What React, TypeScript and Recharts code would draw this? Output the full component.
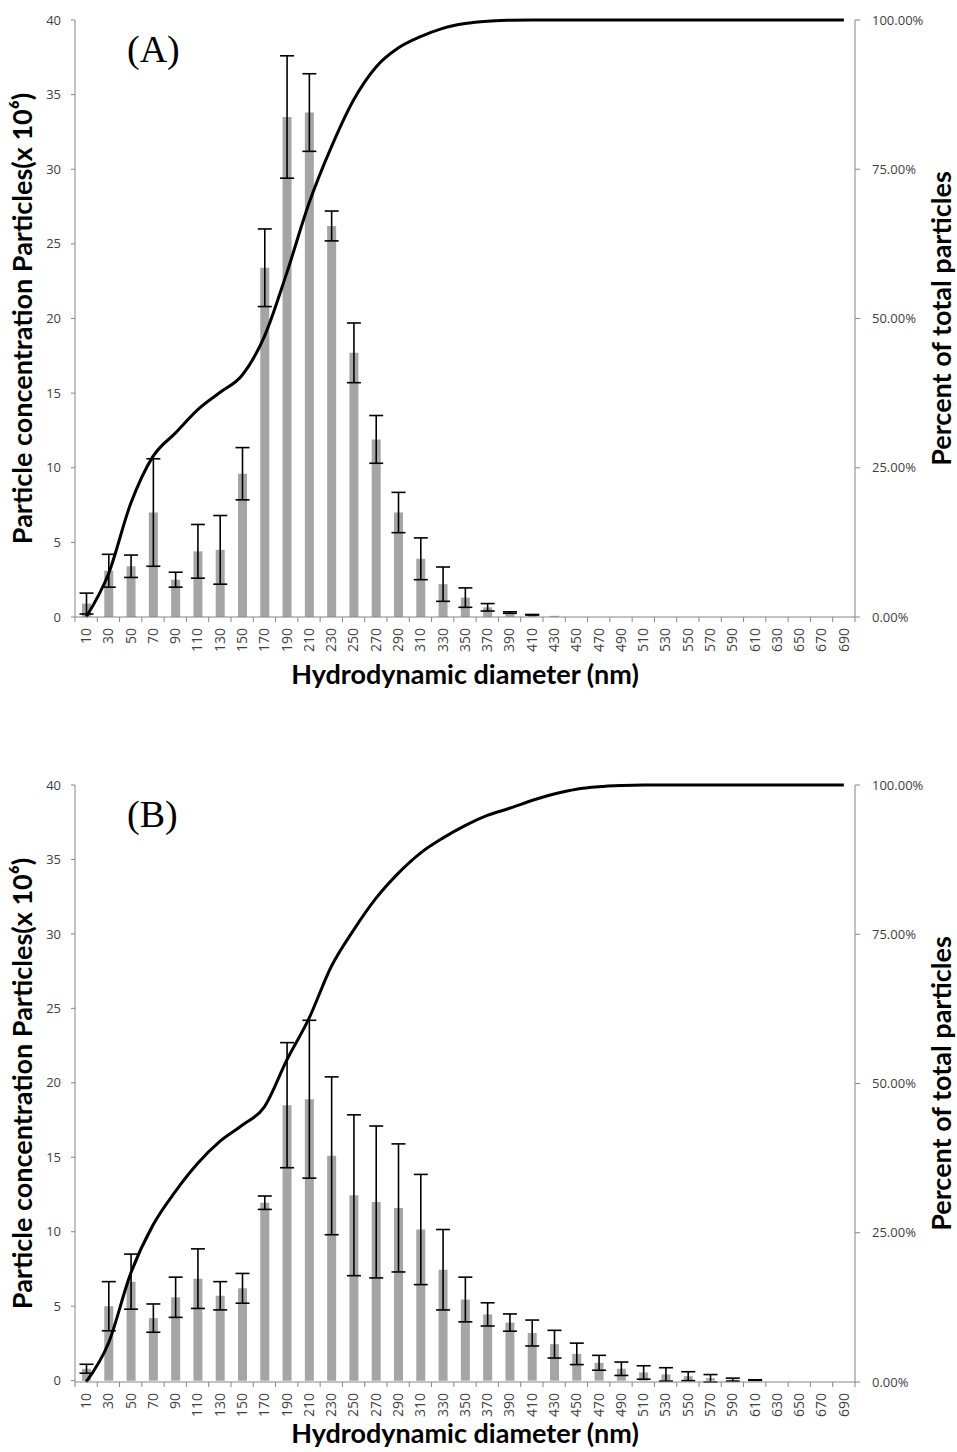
import React from 'react';
import { ComposedChart, Bar, Line, XAxis, YAxis, ErrorBar } from 'recharts';

// Hydrodynamic diameter bins (nm)
const diameters = [
  10, 30, 50, 70, 90, 110, 130, 150, 170, 190, 210, 230, 250, 270, 290, 310, 330, 350,
  370, 390, 410, 430, 450, 470, 490, 510, 530, 550, 570, 590, 610, 630, 650, 670, 690,
];

// Panel A: particle concentration (x 10^6), SD, cumulative fraction
const concA = [
  0.9, 3.1, 3.4, 7.0, 2.5, 4.4, 4.5, 9.6, 23.4, 33.5, 33.8, 26.2, 17.7, 11.9, 7.0, 3.9, 2.2, 1.3,
  0.65, 0.3, 0.15, 0.08, 0, 0, 0, 0, 0, 0, 0, 0, 0, 0, 0, 0, 0,
];
const errA = [
  0.7, 1.1, 0.75, 3.6, 0.5, 1.8, 2.3, 1.75, 2.6, 4.1, 2.6, 1.0, 2.0, 1.6, 1.35, 1.4, 1.15, 0.65,
  0.25, 0.05, 0.02, 0, 0, 0, 0, 0, 0, 0, 0, 0, 0, 0, 0, 0, 0,
];
const cumA = [
  0, 0.072, 0.19, 0.269, 0.308, 0.347, 0.376, 0.405, 0.47, 0.576, 0.693, 0.787, 0.866, 0.921,
  0.953, 0.972, 0.986, 0.994, 0.998, 0.9995, 1, 1, 1, 1, 1, 1, 1, 1, 1, 1, 1, 1, 1, 1, 1,
];

// Panel B
const concB = [
  0.8, 5.0, 6.65, 4.2, 5.6, 6.85, 5.7, 6.2, 11.95, 18.5, 18.9, 15.1, 12.45, 12.0, 11.6, 10.15,
  7.45, 5.45, 4.45, 3.9, 3.2, 2.45, 1.8, 1.2, 0.8, 0.55, 0.42, 0.3, 0.16, 0.07, 0.04, 0, 0, 0, 0,
];
const errB = [
  0.3, 1.65, 1.85, 0.95, 1.35, 2.0, 0.95, 1.0, 0.45, 4.2, 5.3, 5.3, 5.4, 5.1, 4.3, 3.7, 2.7, 1.5,
  0.78, 0.58, 0.87, 0.93, 0.72, 0.5, 0.45, 0.45, 0.45, 0.3, 0.25, 0.1, 0.02, 0, 0, 0, 0,
];
const cumB = [
  0, 0.065, 0.182, 0.263, 0.319, 0.366, 0.403, 0.43, 0.461, 0.539, 0.609, 0.696, 0.757, 0.81,
  0.852, 0.886, 0.911, 0.932, 0.949, 0.961, 0.974, 0.985, 0.993, 0.997, 0.999, 1, 1, 1, 1, 1, 1,
  1, 1, 1, 1,
];

const leftTicks = [0, 5, 10, 15, 20, 25, 30, 35, 40];
const rightTicks = [0, 0.25, 0.5, 0.75, 1];

const AXIS = '#868686';
const TICK_TEXT = '#404040';
const PLOT_W = 780;
const BAND = PLOT_W / diameters.length;

const DiameterTick = (props: any) => {
  const { x, y, payload, index } = props;
  const axisY = y - 11;
  return (
    <g>
      <line x1={x - BAND / 2} x2={x - BAND / 2} y1={axisY} y2={axisY + 5} stroke={AXIS} />
      {index === diameters.length - 1 && (
        <line x1={x + BAND / 2} x2={x + BAND / 2} y1={axisY} y2={axisY + 5} stroke={AXIS} />
      )}
      <text
        transform={`translate(${x},${y}) rotate(-90)`}
        textAnchor="end"
        dy="0.35em"
        fontSize={14}
        fontFamily="Open Sans"
        fill={TICK_TEXT}
      >
        {payload.value}
      </text>
    </g>
  );
};

const titleStyle = {
  textAnchor: 'middle',
  fontSize: 27,
  fontWeight: 700,
  fontFamily: 'Lato',
  fill: '#000',
} as any;

function Panel({ tag, conc, err, cum, top, titleOffset }: any) {
  const rows = diameters.map((d, i) => ({ d: String(d), conc: conc[i], err: err[i], cum: cum[i] }));
  return (
    <div style={{ position: 'absolute', left: 0, top, width: 957, height: 700 }}>
      <ComposedChart width={957} height={700} data={rows} margin={{ top: 20, right: 0, bottom: 0, left: 0 }}>
        <XAxis
          dataKey="d"
          interval={0}
          height={83}
          tickSize={5}
          tickMargin={6}
          tickLine={false}
          axisLine={{ stroke: AXIS }}
          tick={<DiameterTick />}
          label={{ value: 'Hydrodynamic diameter (nm)', position: 'insideBottom', offset: titleOffset, style: titleStyle }}
        />
        <YAxis
          yAxisId="left"
          width={75}
          domain={[0, 40]}
          ticks={leftTicks}
          tickSize={4}
          tickMargin={10}
          axisLine={{ stroke: AXIS }}
          tickLine={{ stroke: AXIS }}
          tick={{ fontSize: 13, fill: TICK_TEXT, fontFamily: 'Open Sans' }}
          label={{
            value: 'Particle concentration Particles(x 10⁶)',
            angle: -90,
            position: 'insideLeft',
            offset: 22,
            style: titleStyle,
          }}
        />
        <YAxis
          yAxisId="right"
          orientation="right"
          width={102}
          domain={[0, 1]}
          ticks={rightTicks}
          tickSize={5}
          tickMargin={12}
          axisLine={{ stroke: AXIS }}
          tickLine={{ stroke: AXIS }}
          tickFormatter={(v: number) => `${(v * 100).toFixed(2)}%`}
          tick={{ fontSize: 13, fill: TICK_TEXT, fontFamily: 'Open Sans', textAnchor: 'start' }}
          label={{
            value: 'Percent of total particles',
            angle: -90,
            position: 'insideRight',
            offset: 16,
            style: titleStyle,
          }}
        />
        <Bar yAxisId="left" dataKey="conc" fill="#a5a5a5" barSize={9} isAnimationActive={false}>
          <ErrorBar dataKey="err" width={7} stroke="#000" strokeWidth={1.6} direction="y" />
        </Bar>
        <Line
          yAxisId="right"
          dataKey="cum"
          type="monotone"
          stroke="#000"
          strokeWidth={3}
          dot={false}
          activeDot={false}
          isAnimationActive={false}
        />
      </ComposedChart>
      <svg width={220} height={80} style={{ position: 'absolute', left: 0, top: 0 }}>
        <text x={127} y={62} fontSize={38} fontFamily="Liberation Serif" fill="#000">
          {tag}
        </text>
      </svg>
    </div>
  );
}

export default function App() {
  return (
    <div
      style={{
        position: 'absolute',
        left: 0,
        top: 0,
        width: 957,
        height: 1452,
        overflow: 'hidden',
        background: '#fff',
      }}
    >
      <Panel tag="(A)" conc={concA} err={errA} cum={cumA} top={0} titleOffset={16} />
      <Panel tag="(B)" conc={concB} err={errB} cum={cumB} top={765} titleOffset={22} />
    </div>
  );
}
